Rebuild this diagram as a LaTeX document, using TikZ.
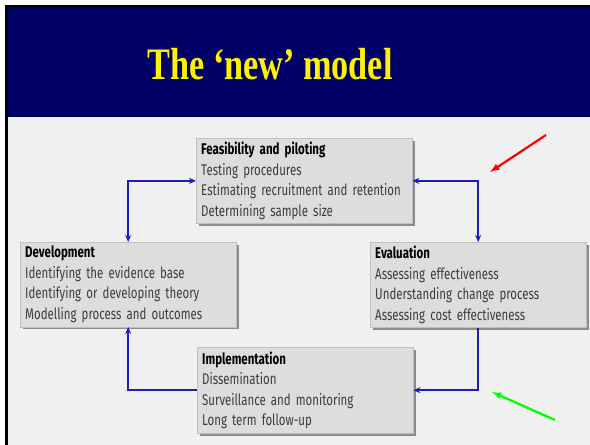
\documentclass[tikz,border=0pt]{standalone}
\usepackage{fontspec}
\setmainfont[FakeStretch=0.74]{Fira Sans}
\newfontfamily\titlefont[FakeStretch=0.76]{Liberation Serif}
\usepackage{xcolor}
\usetikzlibrary{shapes, arrows, arrows.meta, shadows, positioning}
\definecolor{NavyBanner}{RGB}{0,0,102}
\definecolor{SlideGrey}{RGB}{240,240,240}
\definecolor{BoxGrey}{RGB}{221,221,221}
\definecolor{TextGrey}{RGB}{60,60,60}
\definecolor{LinkBlue}{RGB}{30,30,180}
\definecolor{MarkGreen}{RGB}{0,255,0}

\begin{document}
\begin{tikzpicture}[x=1pt, y=-1pt, >={Stealth[length=7pt, width=6pt]},
	stage/.style={draw=gray!50, fill=BoxGrey, anchor=north west, text width=206pt, inner xsep=5pt, inner ysep=4pt, minimum height=84pt, align=left, text=TextGrey, font=\fontsize{15.5pt}{20.5pt}\selectfont, drop shadow={shadow xshift=2.5pt, shadow yshift=-2.5pt, fill=gray!90, opacity=1}},
	link/.style={LinkBlue, line width=1.7pt},
	pointer/.style={line width=2.2pt, -latex}]
		\useasboundingbox (0,0) rectangle (590,445);
		\fill [white] (0,0) rectangle (590,445);
		\fill [SlideGrey] (8,117) rectangle (590,445);
		\fill [NavyBanner] (8,7) rectangle (590,117);
		\draw [black, line width=2.5pt] (6.5,445) -- (6.5,6) -- (590,6);
		\node [text=yellow, font=\titlefont\bfseries\fontsize{45pt}{50pt}\selectfont] (title) at (270, 64) {The ‘new’ model};
		\node [stage] (feas) at (196, 138) {{\color{black}\bfseries Feasibility and piloting}\\Testing procedures\\Estimating recruitment and retention\\Determining sample size};
		\node [stage] (dev) at (20, 242) {{\color{black}\bfseries Development}\\Identifying the evidence base\\Identifying or developing theory\\Modelling process and outcomes};
		\node [stage] (eval) at (370, 242) {{\color{black}\bfseries Evaluation}\\Assessing effectiveness\\Understanding change process\\Assessing cost effectiveness};
		\node [stage, minimum height=86pt] (impl) at (197, 347) {{\color{black}\bfseries Implementation}\\Dissemination\\Surveillance and monitoring\\Long term follow-up};
		\draw [link, <->] (feas.west) -| (dev.north);
		\draw [link, <->] (feas.east) -| (eval.north);
		\draw [link, ->] (eval.south) |- (impl.east);
		\draw [link, ->] (impl.west) -| (dev.south);
		\coordinate (redtail) at (546, 135);
		\coordinate (redhead) at (490, 172);
		\coordinate (greentail) at (555, 420);
		\coordinate (greenhead) at (492, 392);
		\draw [pointer, red] (redtail) -- (redhead);
		\draw [pointer, MarkGreen] (greentail) -- (greenhead);
	\end{tikzpicture}
\end{document}
